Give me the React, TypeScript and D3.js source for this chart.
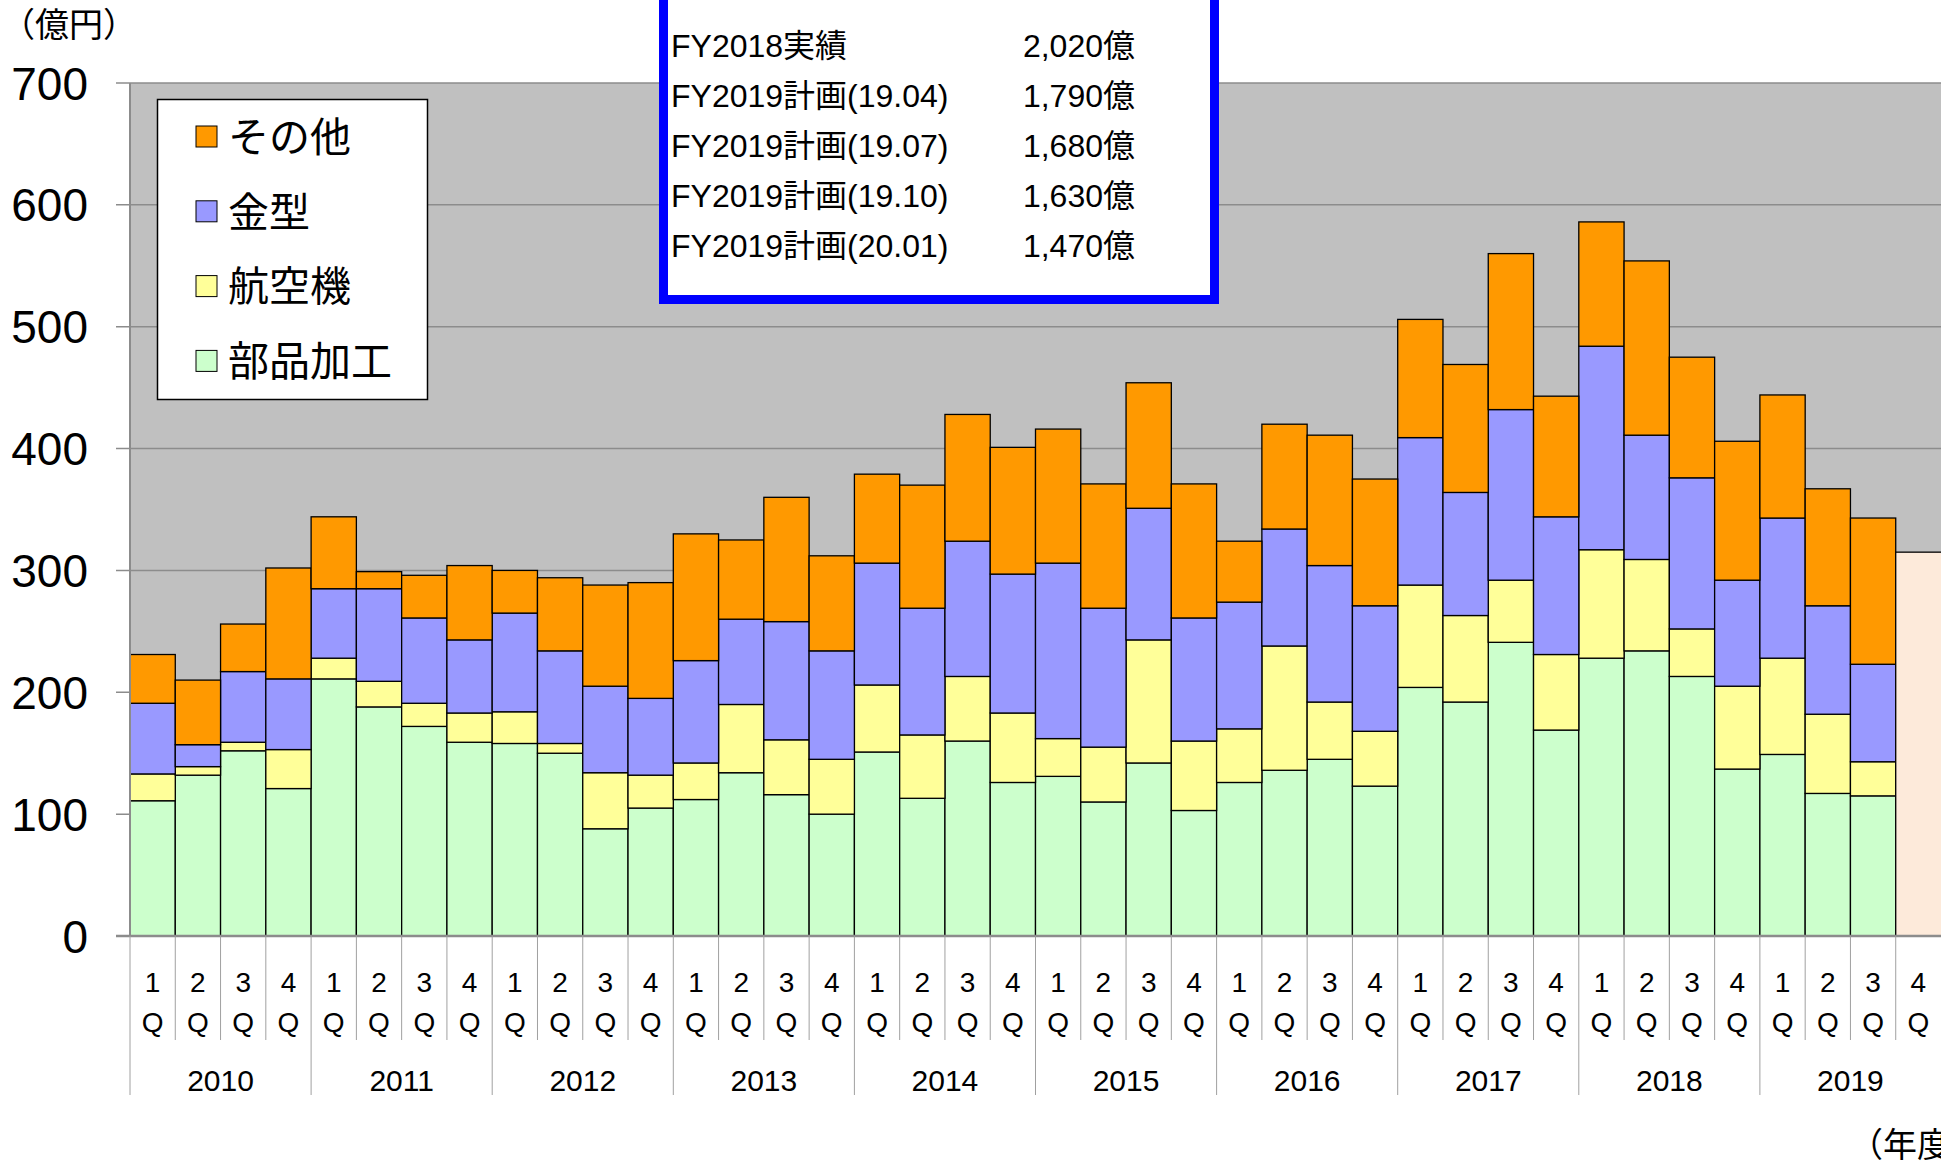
import React, { useEffect, useRef } from "react";
import * as d3 from "d3";

// fiscal years and quarters on the x axis
const years = ["2010", "2011", "2012", "2013", "2014", "2015", "2016", "2017", "2018", "2019"];
const quarters = ["1", "2", "3", "4"];

// quarterly sales (億円), 2010 1Q .. 2019 3Q
const buhinKakou = [111, 132, 152, 121, 211, 188, 172, 159, 158, 150, 88, 105, 112, 134, 116, 100, 151, 113, 160, 126, 131, 110, 142, 103, 126, 136, 145, 123, 204, 192, 241, 169, 228, 234, 213, 137, 149, 117, 115];
const koukuuki = [22, 7, 7, 32, 17, 21, 19, 24, 26, 8, 46, 27, 30, 56, 45, 45, 55, 52, 53, 57, 31, 45, 101, 57, 44, 102, 47, 45, 84, 71, 51, 62, 89, 75, 39, 68, 79, 65, 28];
const kanagata = [58, 18, 58, 58, 57, 76, 70, 60, 81, 76, 71, 63, 84, 70, 97, 89, 100, 104, 111, 114, 144, 114, 108, 101, 104, 96, 112, 103, 121, 101, 140, 113, 167, 102, 124, 87, 115, 89, 80];
const sonota = [40, 53, 39, 91, 59, 14, 35, 61, 35, 60, 83, 95, 104, 65, 102, 78, 73, 101, 104, 104, 110, 102, 103, 110, 50, 86, 107, 104, 97, 105, 128, 99, 102, 143, 99, 114, 101, 96, 120];
// 2019 4Q is only a total (plan)
const forecast4Q = 315;

const yTicks = [0, 100, 200, 300, 400, 500, 600, 700];

const seriesKeys = ["buhin", "koukuu", "kanagata", "sonota"];
const seriesColors = ["#CCFFCC", "#FFFF99", "#9999FF", "#FF9900"];
const legendNames = ["その他", "金型", "航空機", "部品加工"];
const legendColors = ["#FF9900", "#9999FF", "#FFFF99", "#CCFFCC"];

const infoLabels = ["FY2018実績", "FY2019計画(19.04)", "FY2019計画(19.07)", "FY2019計画(19.10)", "FY2019計画(20.01)"];
const infoValues = ["2,020億", "1,790億", "1,680億", "1,630億", "1,470億"];

const FONT = "'Liberation Sans', Arial, 'Noto Sans CJK JP', sans-serif";

function Chart() {
  const ref = useRef<SVGSVGElement>(null);

  useEffect(() => {
    const width = 1941, height = 1167;
    const margin = { left: 130, right: 0, top: 83, bottom: 231 };
    const svg = d3.select(ref.current);
    svg.selectAll("*").remove();

    const keys: string[] = [];
    years.forEach((y) => quarters.forEach((q) => keys.push(y + "-" + q)));

    const x = d3.scaleBand().domain(keys).range([margin.left, width - margin.right]).padding(0);
    const y = d3.scaleLinear().domain([0, 700]).range([height - margin.bottom, margin.top]);

    // plot background
    svg
      .append("rect")
      .attr("x", margin.left)
      .attr("y", y(700))
      .attr("width", width - margin.left)
      .attr("height", y(0) - y(700))
      .attr("fill", "#C0C0C0");

    // gridlines + tick marks
    svg
      .selectAll(".grid")
      .data(yTicks.filter((d) => d > 0))
      .join("line")
      .attr("x1", margin.left - 14)
      .attr("x2", width)
      .attr("y1", (d) => y(d))
      .attr("y2", (d) => y(d))
      .attr("stroke", "#8C8C8C")
      .attr("stroke-width", 1.5);

    svg
      .selectAll(".ylab")
      .data(yTicks)
      .join("text")
      .attr("x", 88)
      .attr("y", (d) => y(d))
      .attr("dy", "0.36em")
      .attr("text-anchor", "end")
      .style("font-family", FONT)
      .style("font-size", "46px")
      .text((d) => d);

    // stacked bars
    const rows = buhinKakou.map((_, i) => ({
      key: keys[i],
      buhin: buhinKakou[i],
      koukuu: koukuuki[i],
      kanagata: kanagata[i],
      sonota: sonota[i],
    }));
    const stacked = d3.stack<any>().keys(seriesKeys)(rows);

    svg
      .selectAll(".layer")
      .data(stacked)
      .join("g")
      .attr("fill", (d, i) => seriesColors[i])
      .selectAll("rect")
      .data((d) => d)
      .join("rect")
      .attr("x", (d) => x(d.data.key)!)
      .attr("y", (d) => y(d[1]))
      .attr("width", x.bandwidth())
      .attr("height", (d) => y(d[0]) - y(d[1]))
      .attr("stroke", "#000")
      .attr("stroke-width", 1.3);

    // 2019 4Q plan bar
    svg
      .append("rect")
      .attr("x", x("2019-4")!)
      .attr("y", y(forecast4Q))
      .attr("width", x.bandwidth() + 10)
      .attr("height", y(0) - y(forecast4Q))
      .attr("fill", "#FDEADA")
      .attr("stroke", "#000")
      .attr("stroke-width", 1.3);

    // axes lines
    svg
      .append("line")
      .attr("x1", margin.left)
      .attr("x2", margin.left)
      .attr("y1", y(700))
      .attr("y2", y(0))
      .attr("stroke", "#8C8C8C")
      .attr("stroke-width", 2);
    svg
      .append("line")
      .attr("x1", margin.left - 14)
      .attr("x2", width)
      .attr("y1", y(0))
      .attr("y2", y(0))
      .attr("stroke", "#8C8C8C")
      .attr("stroke-width", 2.5);

    // category separators
    svg
      .selectAll(".sep")
      .data(keys)
      .join("line")
      .attr("x1", (d) => x(d)!)
      .attr("x2", (d) => x(d)!)
      .attr("y1", y(0))
      .attr("y2", (d) => (d.endsWith("-1") ? 1095 : 1040))
      .attr("stroke", "#A0A0A0")
      .attr("stroke-width", 1);

    // quarter labels
    const ql = svg
      .selectAll(".ql")
      .data(keys)
      .join("g")
      .style("font-family", FONT)
      .style("font-size", "28px")
      .attr("text-anchor", "middle");
    ql.append("text")
      .attr("x", (d) => x(d)! + x.bandwidth() / 2)
      .attr("y", 982)
      .attr("dy", "0.36em")
      .text((d) => d.split("-")[1]);
    ql.append("text")
      .attr("x", (d) => x(d)! + x.bandwidth() / 2)
      .attr("y", 1022)
      .attr("dy", "0.36em")
      .text("Q");

    // year labels
    svg
      .selectAll(".yl")
      .data(years)
      .join("text")
      .attr("x", (d) => x(d + "-1")! + x.bandwidth() * 2)
      .attr("y", 1080)
      .attr("dy", "0.36em")
      .attr("text-anchor", "middle")
      .style("font-family", FONT)
      .style("font-size", "30px")
      .text((d) => d);

    // unit labels
    svg
      .append("text")
      .attr("x", 1)
      .attr("y", 25)
      .attr("dy", "0.36em")
      .style("font-family", FONT)
      .style("font-size", "34px")
      .text("（億円）");
    svg
      .append("text")
      .attr("x", 1849)
      .attr("y", 1145)
      .attr("dy", "0.36em")
      .style("font-family", FONT)
      .style("font-size", "34px")
      .text("（年度）");

    // legend
    const legend = svg.append("g");
    legend
      .append("rect")
      .attr("x", 157.5)
      .attr("y", 99.5)
      .attr("width", 270)
      .attr("height", 300)
      .attr("fill", "#fff")
      .attr("stroke", "#000")
      .attr("stroke-width", 1.5);
    const items = legend
      .selectAll(".li")
      .data(legendNames)
      .join("g")
      .attr("transform", (d, i) => `translate(196, ${137 + i * 74.8})`);
    items
      .append("rect")
      .attr("x", 0)
      .attr("y", -11)
      .attr("width", 21)
      .attr("height", 21)
      .attr("fill", (d, i) => legendColors[i])
      .attr("stroke", "#000")
      .attr("stroke-width", 1);
    items
      .append("text")
      .attr("x", 32)
      .attr("y", 0)
      .attr("dy", "0.36em")
      .style("font-family", FONT)
      .style("font-size", "41px")
      .text((d) => d);

    // plan box
    const box = svg.append("g");
    box
      .append("rect")
      .attr("x", 663.5)
      .attr("y", -10)
      .attr("width", 551)
      .attr("height", 309.5)
      .attr("fill", "#fff")
      .attr("stroke", "#0000FF")
      .attr("stroke-width", 9);
    box
      .selectAll(".il")
      .data(infoLabels)
      .join("text")
      .attr("x", 671)
      .attr("y", (d, i) => 45 + i * 50.2)
      .attr("dy", "0.36em")
      .style("font-family", FONT)
      .style("font-size", "32px")
      .text((d) => d);
    box
      .selectAll(".iv")
      .data(infoValues)
      .join("text")
      .attr("x", 1135)
      .attr("y", (d, i) => 45 + i * 50.2)
      .attr("dy", "0.36em")
      .attr("text-anchor", "end")
      .style("font-family", FONT)
      .style("font-size", "32px")
      .text((d) => d);
  }, []);

  return <svg ref={ref} width={1941} height={1167} style={{ position: "absolute", left: 0, top: 0, background: "#fff" }} />;
}

export default function App() {
  return <Chart />;
}
